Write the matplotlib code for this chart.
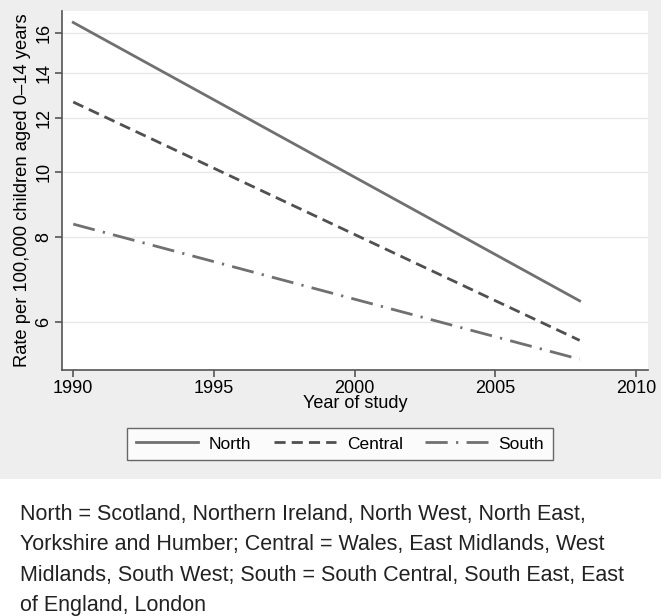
import matplotlib
matplotlib.use('Agg')
import matplotlib.pyplot as plt
from matplotlib.patches import Rectangle
from matplotlib.ticker import FixedLocator, NullLocator

plt.rcParams['font.family'] = ['Liberation Sans', 'DejaVu Sans']

# values (rate per 100,000, log scale)
years = [1990, 2008]
north = [16.6, 6.45]
central = [12.67, 5.64]
south = [8.37, 5.29]
yticks = [6, 8, 10, 12, 14, 16]
xticks = [1990, 1995, 2000, 2005, 2010]

W, H = 661, 616
fig = plt.figure(figsize=(W / 100, H / 100), dpi=100)
fig.patch.set_facecolor('white')

# grey panel behind the plot
fig.add_artist(Rectangle((0, 1 - 479 / H), 1, 479 / H, transform=fig.transFigure,
                         facecolor='#eeeeee', edgecolor='none', zorder=0))

ax = fig.add_axes([62 / W, 1 - 370 / H, (648 - 62) / W, (370 - 11) / H])
ax.set_facecolor('white')

lc = '#707070'
l1, = ax.plot(years, north, color=lc, lw=2, ls='-')
l2, = ax.plot(years, central, color='#505050', lw=2, ls=(0, (4, 2.2)))
l3, = ax.plot(years, south, color=lc, lw=2, ls=(0, (8, 3, 0.8, 3)))

ax.set_yscale('log')
ax.set_ylim(5.10, 17.26)
ax.set_xlim(1989.6, 2010.43)
ax.yaxis.set_major_locator(FixedLocator(yticks))
ax.yaxis.set_minor_locator(NullLocator())
ax.set_yticklabels([str(t) for t in yticks], rotation=90, va='center', fontsize=13)
ax.set_xticks(xticks)
ax.set_xticklabels([str(t) for t in xticks], fontsize=13)
ax.grid(True, axis='y', color='#e6e6e6', lw=0.9)
ax.set_axisbelow(True)

for s in ['top', 'right']:
    ax.spines[s].set_visible(False)
for s in ['left', 'bottom']:
    ax.spines[s].set_color('#555555')
    ax.spines[s].set_linewidth(1.2)
ax.tick_params(colors='#555555', labelcolor='black', length=5, width=1.2, pad=2)

ax.set_xlabel('Year of study', fontsize=13, labelpad=-1)
ax.set_ylabel('Rate per 100,000 children aged 0\u201314 years', fontsize=13.2, labelpad=3)

leg = fig.legend([l1, l2, l3], ['North', 'Central', 'South'], ncol=3,
                 loc='center', bbox_to_anchor=(340 / W, 1 - 444 / H),
                 frameon=True, fancybox=False, fontsize=12.5, handlelength=3.6,
                 handletextpad=0.6, columnspacing=1.3, borderpad=0.5)
leg.get_frame().set_edgecolor('#444444')
leg.get_frame().set_linewidth(1.0)

note = ('North = Scotland, Northern Ireland, North West, North East,\n'
        'Yorkshire and Humber; Central = Wales, East Midlands, West\n'
        'Midlands, South West; South = South Central, South East, East\n'
        'of England, London')
fig.text(20 / W, 1 - 504 / H, note, ha='left', va='top', fontsize=15.5,
         linespacing=1.58, color='#222222')

fig.savefig('out.png', dpi=100, facecolor=fig.get_facecolor())
